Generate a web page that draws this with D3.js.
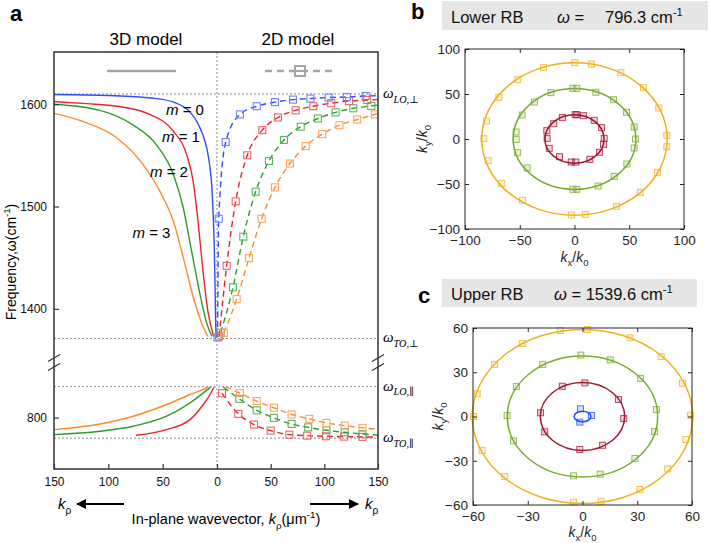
<!DOCTYPE html>
<html>
<head>
<meta charset="utf-8">
<script src="https://cdn.jsdelivr.net/npm/d3@7"></script>
<style>
  body { margin: 0; background: #fff; }
  svg { display: block; font-family: "Liberation Sans", Arial, sans-serif; }
</style>
</head>
<body>
<div id="chart"></div>
<script>
// ---------------- data ----------------
const modeNames = ["m = 0", "m = 1", "m = 2", "m = 3"];
const wLOperp = 1610, wTOperp = 1371, wLOpar = 830, wTOpar = 780;

// panel a, 3D model (solid), upper band, [k, w]
const up3D_m0 = [[150,1609.5],[100,1608.5],[60,1606],[40,1602],[25,1592.5],[18,1582],[13,1570],[9,1555],[6.4,1537.6],[4.5,1515],[3.4,1489],[2.5,1460],[1.8,1423],[1.3,1390],[0.6,1372]];
const up3D_m1 = [[150,1602.6],[120,1600.5],[92,1598],[62,1590],[40.5,1574],[28,1551],[22,1525],[17.5,1486],[12.9,1437],[8.3,1397],[3,1373]];
const up3D_m2 = [[150,1600],[107.7,1594],[77,1579.5],[55.5,1560],[40,1531],[31,1498.5],[23.3,1456],[15.6,1414],[9.5,1386],[4.6,1373]];
const up3D_m3 = [[150,1591],[123,1583],[92,1567],[68,1541],[52.4,1514.5],[40,1485],[31,1450],[21.8,1411],[12.6,1382],[8.3,1373]];

// panel a, 3D model (solid), lower band (no m = 0)
const lo3D_m1 = [[74.5,782.8],[46.3,788.3],[24.8,798],[12.6,812.7],[6.4,822.4],[2.8,829.5]];
const lo3D_m2 = [[150,783.4],[107.7,786.7],[77,791.6],[46.3,801.3],[24.8,814.3],[12.6,824],[6,829.5]];
const lo3D_m3 = [[150,788.3],[107.7,793.8],[77,801.3],[46.3,812.7],[24.8,822.4],[9.5,829],[8,830]];

// panel a, 2D model (dashed + squares), upper band
const up2D_m0 = [[0.5,1372],[1.6,1488],[8.1,1563],[21.4,1590],[37,1598],[54,1602],[70.8,1604.5],[87,1605.5],[104,1606.5],[121,1607],[138.5,1608]];
const up2D_m1 = [[2,1373],[9,1442],[17.4,1505],[28.2,1550],[42.2,1574.6],[56.8,1587],[73.3,1594],[89.7,1598],[106.4,1601],[123,1603],[140,1604]];
const up2D_m2 = [[3.4,1376.6],[14.9,1421],[24.5,1470.5],[36,1514.5],[48.4,1544.4],[62.4,1565],[78,1578],[94,1586],[110.5,1592],[127,1596],[143.7,1598.3]];
const up2D_m3 = [[6.5,1376.6],[18.3,1409.5],[29.8,1449.5],[41.6,1488],[54,1518.7],[68,1542],[82.6,1559],[98,1570.7],[114,1579.5],[130.6,1585],[147,1590]];
const up2D_edge = [1608.3, 1604.5, 1599, 1591];   // value at k = 150

// panel a, 2D model, lower band
const lo2D_m1 = [[4.7,823.7],[19.9,803.6],[34.5,793.2],[50,787.3],[67.4,783.4],[84,782.4],[101.5,781.8],[118.5,781.5],[135.6,781.2]];
const lo2D_m2 = [[20.8,818.2],[37,807],[53,799.7],[69.5,793.8],[85,790.5],[102,787.6],[119,785.7],[135.6,784]];
const lo2D_m3 = [[21.4,823.7],[37,816],[53,809.5],[69.5,803],[86,798.7],[102,794.8],[119,792.2],[135.6,790]];
const lo2D_start = [null, [4.7,823.7], [6,829.5], [8,830]];
const lo2D_edge = [null, 781, 783, 788.5];

const xTicksA = [150, 100, 50, 0];
const yTicksUp = [1400, 1500, 1600];
const yTicksLo = [800];

// panel b: iso-frequency contours, lower RB, w = 796.3
const bRx = [27, 56, 84.7];
const bRy = [27, 56, 84.7];
const bRed = [[0.6,27],[2.1,27],[8.2,25.9],[18,20.7],[24.7,12.6],[27.1,0.7],[26.5,-5.9],[22.8,-14.8],[14,-22.6],[1.2,-25.6],[-3,-25.6],[-13.7,-19.6],[-23.1,-10.4],[-25,0.7],[-25.3,9.3],[-19,17],[-11,24]];
const bGreen = [[-1.5,56.3],[2.1,56.3],[19.5,51.9],[35.6,43.7],[47.5,29.6],[54.5,13.3],[55.7,0],[54.5,-10],[47.8,-27.8],[36.3,-41.5],[21.6,-52.2],[2.1,-55.9],[-1.5,-55.9],[-43.2,-32.2],[-52,-15.2],[-53.3,-0.4],[-53.3,7.8],[-47.8,26.7],[-36.5,41.1],[-21.6,51.5]];
const bYellow = [[0.3,84.8],[15.5,83.3],[42.3,73.7],[63,57],[77,34.4],[84.3,4.1],[84.3,-8.6],[75.8,-37.4],[60,-59.3],[38.4,-74.8],[9.8,-83.7],[-2.7,-84.4],[-47.5,-68.1],[-66.4,-49.3],[-78.8,-24.1],[-82.8,0.4],[-80.4,20],[-69.1,46.3],[-51.8,65.9],[-28.3,79.6]];
const bTicks = [-100, -50, 0, 50, 100];

// panel c: upper RB, w = 1539.6
const cRx = [4.6, 23.1, 41.2, 60.4];
const cRy = [3.6, 23, 41, 59];
const cBlue = [[-1.1,5.2],[4.9,0.7],[-1.5,-3.8]];
const cRed = [[1.3,22.8],[19.7,11.5],[22.6,-1.4],[11,-19.5],[-1.5,-22.4],[-20.7,-10.4],[-23,2.5],[-11.1,20.5]];
const cGreen = [[-0.9,41.6],[15.2,38.4],[31.8,25.8],[40.5,4.7],[39.5,-10.2],[28.7,-28.5],[9.7,-39.1],[-4.9,-40.2],[-37.8,-16.5],[-41.3,0.7],[-36.2,20.3],[-21.8,35.3]];
const cYellow = [[-12.2,58.3],[2.6,59],[26.1,53.4],[43.1,40.7],[54.8,22.6],[59.2,0.9],[56.6,-15.6],[46.7,-35.5],[31.4,-49.5],[10.2,-57.4],[-4.9,-58.1],[-42.6,-40.7],[-55,-23],[-59.7,0],[-57.7,15.4],[-48.2,35.3],[-33,49.5]];
const cTicks = [-60, -30, 0, 30, 60];

// ---------------- styles ----------------
const colA = ["#2f4cff", "#e3262b", "#2e9a2e", "#ff8a2a"];
const colAmark = ["#6f83ff", "#ee6464", "#5fb35f", "#ffa462"];
const colBC = ["#1f4fff", "#a2142f", "#77ac30", "#edb120"];

const svg = d3.select("#chart").append("svg").attr("width", 709).attr("height", 543);

// rich text helper: parts {t, i, sub, sup, font}
function rich(g, x, y, size, parts, opts = {}) {
  const t = g.append("text").attr("x", x).attr("y", y).style("font-size", size + "px")
    .attr("fill", opts.fill || "#000");
  if (opts.anchor) t.attr("text-anchor", opts.anchor);
  if (opts.font) t.style("font-family", opts.font);
  if (opts.transform) t.attr("transform", opts.transform);
  let off = 0;
  parts.forEach(p => {
    const target = p.sub ? size * 0.32 : p.sup ? -size * 0.4 : 0;
    const ts = t.append("tspan").text(p.t);
    if (target !== off) ts.attr("dy", target - off);
    off = target;
    if (p.sub || p.sup) ts.style("font-size", (size * 0.68) + "px");
    if (p.i) ts.style("font-style", "italic");
    if (p.font) ts.style("font-family", p.font);
  });
  return t;
}

// ================= panel a =================
const aL = 54, aR = 378, aMid = 217, aTop = 52, aBrk = 362, aBot = 469;
const xL = d3.scaleLinear().domain([150, 0]).range([aL, aMid]);
const xR = d3.scaleLinear().domain([0, 150]).range([aMid, aR]);
const yU = d3.scaleLinear().domain([1348, 1651]).range([aBrk, aTop]);
const yLo = d3.scaleLinear().domain([750, 854]).range([aBot, aBrk]);

const ga = svg.append("g");
const defs = svg.append("defs");
defs.append("clipPath").attr("id", "clipU").append("rect")
  .attr("x", aL).attr("y", aTop).attr("width", aR - aL).attr("height", aBrk - aTop - 3);
defs.append("clipPath").attr("id", "clipL").append("rect")
  .attr("x", aL).attr("y", aBrk + 6).attr("width", aR - aL).attr("height", aBot - aBrk - 6);

// reference dotted lines
const dotted = ga.append("g").attr("stroke", "#8a8a8a").attr("stroke-width", 1).attr("stroke-dasharray", "2,2");
dotted.append("line").attr("x1", aMid).attr("x2", aMid).attr("y1", aTop).attr("y2", aBot);
[[yU, wLOperp], [yU, wTOperp], [yLo, wLOpar], [yLo, wTOpar]].forEach(([s, v]) => {
  dotted.append("line").attr("x1", aL).attr("x2", aR).attr("y1", s(v)).attr("y2", s(v));
});

// solid 3D lines
const lineL = y => d3.line().x(d => xL(d[0])).y(d => y(d[1])).curve(d3.curveMonotoneX);
const lineR = y => d3.line().x(d => xR(d[0])).y(d => y(d[1])).curve(d3.curveMonotoneX);

const gU = ga.append("g").attr("clip-path", "url(#clipU)");
const gLo = ga.append("g").attr("clip-path", "url(#clipL)");

[up3D_m0, up3D_m1, up3D_m2, up3D_m3].forEach((d, i) => {
  gU.append("path").datum(d.slice().sort((a, b) => b[0] - a[0])).attr("d", lineL(yU))
    .attr("fill", "none").attr("stroke", colA[i]).attr("stroke-width", 1.4);
});
[null, lo3D_m1, lo3D_m2, lo3D_m3].forEach((d, i) => {
  if (!d) return;
  gLo.append("path").datum(d.slice().sort((a, b) => b[0] - a[0])).attr("d", lineL(yLo))
    .attr("fill", "none").attr("stroke", colA[i]).attr("stroke-width", 1.4);
});

// dashed 2D lines + square markers
function draw2D(g, y, pts, i, start, edge) {
  let lp = pts.slice();
  if (start && (lp[0][0] !== start[0])) lp.unshift(start);
  if (edge != null) lp.push([150, edge]);
  g.append("path").datum(lp).attr("d", lineR(y)).attr("fill", "none")
    .attr("stroke", colA[i]).attr("stroke-width", 1.4).attr("stroke-dasharray", "6,4");
  g.selectAll(null).data(pts).join("rect")
    .attr("x", d => xR(d[0]) - 3.5).attr("y", d => y(d[1]) - 3.5)
    .attr("width", 7).attr("height", 7)
    .attr("fill", "none").attr("stroke", colAmark[i]).attr("stroke-width", 1.1);
}
[up2D_m0, up2D_m1, up2D_m2, up2D_m3].forEach((d, i) => draw2D(gU, yU, d, i, null, up2D_edge[i]));
[null, lo2D_m1, lo2D_m2, lo2D_m3].forEach((d, i) => { if (d) draw2D(gLo, yLo, d, i, lo2D_start[i], lo2D_edge[i]); });

// box + break marks
const box = ga.append("g").attr("stroke", "#333").attr("stroke-width", 1.5).attr("fill", "none");
box.append("rect").attr("x", aL).attr("y", aTop).attr("width", aR - aL).attr("height", aBot - aTop);
[aL, aR].forEach(x => {
  [aBrk - 4, aBrk + 5].forEach(y => {
    box.append("line").attr("x1", x - 6).attr("y1", y + 3.5).attr("x2", x + 6).attr("y2", y - 3.5).attr("stroke-width", 1.2);
  });
});

// axes
function styleAxis(g) {
  g.select(".domain").remove();
  g.selectAll(".tick line").attr("stroke", "#333").attr("stroke-width", 1.2);
  g.selectAll(".tick text").attr("fill", "#111");
}
ga.append("g").attr("transform", `translate(${aL},0)`)
  .call(d3.axisLeft(yU).tickValues(yTicksUp).tickSize(-5).tickPadding(7).tickFormat(d3.format("d")))
  .style("font-size", "12px").style("font-family", "Liberation Sans, Arial").call(styleAxis);
ga.append("g").attr("transform", `translate(${aL},0)`)
  .call(d3.axisLeft(yLo).tickValues(yTicksLo).tickSize(-5).tickPadding(7).tickFormat(d3.format("d")))
  .style("font-size", "12px").style("font-family", "Liberation Sans, Arial").call(styleAxis);
ga.append("g").attr("transform", `translate(0,${aBot})`)
  .call(d3.axisBottom(xL).tickValues(xTicksA).tickSize(-5).tickPadding(8))
  .style("font-size", "12px").style("font-family", "Liberation Sans, Arial").call(styleAxis);
ga.append("g").attr("transform", `translate(0,${aBot})`)
  .call(d3.axisBottom(xR).tickValues(xTicksA.filter(v => v > 0)).tickSize(-5).tickPadding(8))
  .style("font-size", "12px").style("font-family", "Liberation Sans, Arial").call(styleAxis);

// mode labels
const mPos = [[166, 115], [162, 141.5], [150, 176.5], [132.5, 238]];
modeNames.forEach((m, i) => {
  const parts = m.split(" ");
  rich(ga, mPos[i][0], mPos[i][1], 15, [{ t: parts[0], i: true }, { t: " " + parts[1] + " " + parts[2] }]);
});

// model titles and legend
ga.append("text").attr("x", 146).attr("y", 45).attr("text-anchor", "middle").style("font-size", "17px").text("3D model");
ga.append("text").attr("x", 298).attr("y", 45).attr("text-anchor", "middle").style("font-size", "17px").text("2D model");
ga.append("line").attr("x1", 107).attr("x2", 176).attr("y1", 71).attr("y2", 71).attr("stroke", "#a5a5a5").attr("stroke-width", 2.5);
ga.append("line").attr("x1", 265).attr("x2", 333).attr("y1", 71).attr("y2", 71).attr("stroke", "#a5a5a5").attr("stroke-width", 2.5).attr("stroke-dasharray", "7,5");
ga.append("rect").attr("x", 295).attr("y", 66).attr("width", 10).attr("height", 10).attr("fill", "#fff").attr("stroke", "#a5a5a5").attr("stroke-width", 2);
ga.append("line").attr("x1", 295).attr("x2", 305).attr("y1", 71).attr("y2", 71).attr("stroke", "#a5a5a5").attr("stroke-width", 2);

// right-hand frequency labels
const serif = "'Liberation Serif', 'DejaVu Serif', serif";
[[yU(wLOperp), "LO,⊥"], [yU(wTOperp), "TO,⊥"], [yLo(wLOpar), "LO,∥"], [yLo(wTOpar), "TO,∥"]].forEach(([y, s]) => {
  rich(ga, 383, y + 4, 15, [{ t: "ω", i: true }, { t: s, i: true, sub: true }], { font: serif });
});

// axis titles
rich(ga, 0, 0, 14, [{ t: "Frequency,ω(cm" }, { t: "-1", sup: true }, { t: ")" }],
  { anchor: "middle", transform: "translate(16,262) rotate(-90)" });
rich(ga, 226, 524, 14.5, [{ t: "In-plane wavevector, " }, { t: "k", i: true }, { t: "ρ", sub: true }, { t: "(μm" }, { t: "-1", sup: true }, { t: ")" }], { anchor: "middle" });

// k arrows
defs.append("marker").attr("id", "arr").attr("viewBox", "0 0 10 10").attr("refX", 9).attr("refY", 5)
  .attr("markerWidth", 5).attr("markerHeight", 5).attr("orient", "auto")
  .append("path").attr("d", "M0,0L10,5L0,10z").attr("fill", "#000");
ga.append("line").attr("x1", 124).attr("x2", 77).attr("y1", 504).attr("y2", 504).attr("stroke", "#000").attr("stroke-width", 2).attr("marker-end", "url(#arr)");
ga.append("line").attr("x1", 310).attr("x2", 358).attr("y1", 504).attr("y2", 504).attr("stroke", "#000").attr("stroke-width", 2).attr("marker-end", "url(#arr)");
rich(ga, 58, 509, 15, [{ t: "k", i: true }, { t: "ρ", sub: true }]);
rich(ga, 365, 509, 15, [{ t: "k", i: true }, { t: "ρ", sub: true }]);

ga.append("text").attr("x", 10).attr("y", 21).style("font-size", "22px").style("font-weight", "bold").text("a");

// ================= panels b and c =================
function contourPanel(o) {
  const g = svg.append("g");
  const x = d3.scaleLinear().domain(o.dom).range([o.l, o.r]);
  const y = d3.scaleLinear().domain(o.dom).range([o.b, o.t]);

  g.append("rect").attr("x", o.hx).attr("y", o.hy).attr("width", o.hw).attr("height", o.hh).attr("fill", "#e6e6e6");
  g.append("text").attr("x", o.lx).attr("y", o.ly).style("font-size", "22px").style("font-weight", "bold").text(o.letter);
  g.append("text").attr("x", 451).attr("y", o.hy + o.hh - 7).style("font-size", "16.5px").attr("fill", "#111").text(o.band);
  o.title.forEach(tt => rich(g, tt.x, o.hy + o.hh - 7, 16.5, tt.parts, { fill: "#111" }));

  // contours
  o.rx.forEach((rx, i) => {
    g.append("ellipse").attr("cx", x(0)).attr("cy", y(0))
      .attr("rx", x(rx) - x(0)).attr("ry", y(0) - y(o.ry[i]))
      .attr("fill", "none").attr("stroke", o.colors[i]).attr("stroke-width", 1.5);
  });
  o.sets.forEach((pts, i) => {
    g.selectAll(null).data(pts).join("rect")
      .attr("x", d => x(d[0]) - 3).attr("y", d => y(d[1]) - 3)
      .attr("width", 6).attr("height", 6)
      .attr("fill", o.colors[i]).attr("fill-opacity", 0.18)
      .attr("stroke", o.colors[i]).attr("stroke-opacity", 0.75).attr("stroke-width", 1);
  });

  // axes with inward ticks on all sides
  const st = (ax, pad) => ax.tickValues(o.ticks).tickSize(-4).tickPadding(pad);
  const fs = s => s.style("font-size", "13.5px").style("font-family", "Liberation Sans, Arial");
  const clean = s => { s.select(".domain").remove(); s.selectAll("line").attr("stroke", "#262626"); s.selectAll("text").attr("fill", "#262626"); };
  g.append("g").attr("transform", `translate(0,${o.b})`).call(st(d3.axisBottom(x), 6)).call(fs).call(clean);
  g.append("g").attr("transform", `translate(${o.l},0)`).call(st(d3.axisLeft(y), 5)).call(fs).call(clean);
  g.append("g").attr("transform", `translate(0,${o.t})`).call(st(d3.axisTop(x), 5).tickFormat("")).call(clean);
  g.append("g").attr("transform", `translate(${o.r},0)`).call(st(d3.axisRight(y), 5).tickFormat("")).call(clean);
  g.append("rect").attr("x", o.l).attr("y", o.t).attr("width", o.r - o.l).attr("height", o.b - o.t)
    .attr("fill", "none").attr("stroke", "#262626").attr("stroke-width", 1);

  rich(g, (o.l + o.r) / 2, o.xlabY, 14, [{ t: "k", i: true }, { t: "x", sub: true }, { t: "/" }, { t: "k", i: true }, { t: "0", sub: true }],
    { anchor: "middle", fill: "#262626" });
  rich(g, 0, 0, 14, [{ t: "k", i: true }, { t: "y", sub: true }, { t: "/" }, { t: "k", i: true }, { t: "0", sub: true }],
    { anchor: "middle", fill: "#262626", transform: `translate(${o.ylabX},${(o.t + o.b) / 2}) rotate(-90)` });
}

contourPanel({
  letter: "b", lx: 411, ly: 19, band: "Lower RB",
  hx: 442, hy: 1, hw: 266, hh: 29,
  title: [{ x: 557, parts: [{ t: "ω", i: true }, { t: " =" }] }, { x: 605, parts: [{ t: "796.3 cm" }, { t: "-1", sup: true }] }],
  dom: [-100, 100], l: 465, r: 684, t: 49, b: 229, ticks: bTicks,
  rx: bRx, ry: bRy, sets: [bRed, bGreen, bYellow], colors: colBC.slice(1),
  xlabY: 262, ylabX: 427
});

contourPanel({
  letter: "c", lx: 418, ly: 303, band: "Upper RB",
  hx: 442, hy: 279, hw: 255, hh: 28,
  title: [{ x: 554, parts: [{ t: "ω", i: true }, { t: " = 1539.6 cm" }, { t: "-1", sup: true }] }],
  dom: [-60, 60], l: 473, r: 692, t: 328, b: 505, ticks: cTicks,
  rx: cRx, ry: cRy, sets: [cBlue, cRed, cGreen, cYellow], colors: colBC,
  xlabY: 537, ylabX: 443
});
</script>
</body>
</html>
